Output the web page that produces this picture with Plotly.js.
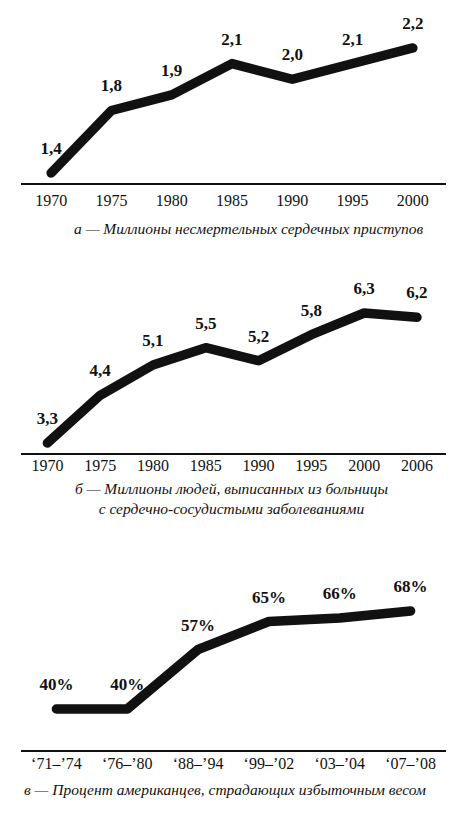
<!DOCTYPE html>
<html><head><meta charset="utf-8">
<script src="https://cdn.plot.ly/plotly-3.0.1.min.js"></script>
<style>html,body{margin:0;padding:0;background:#fff}#chart{width:463px;height:813px}
.js-line{stroke-linecap:round;stroke-linejoin:round}</style>
</head><body><div id="chart"></div><script>
const yearsA = ['1970','1975','1980','1985','1990','1995','2000'];
const heartAttacks = [1.4,1.8,1.9,2.1,2.0,2.1,2.2];
const yearsB = ['1970','1975','1980','1985','1990','1995','2000','2006'];
const discharges = [3.3,4.4,5.1,5.5,5.2,5.8,6.3,6.2];
const periodsC = ['‘71–’74','‘76–’80','‘88–’94','‘99–’02','‘03–’04','‘07–’08'];
const overweight = [40,40,57,65,66,68];
const captionA = 'а — Миллионы несмертельных сердечных приступов';
const captionB = 'б — Миллионы людей, выписанных из больницы<br>с сердечно-сосудистыми заболеваниями';
const captionC = 'в — Процент американцев, страдающих избыточным весом';

const FONT = 'Liberation Serif';
const INK = '#111';
const W = 463, H = 813;
const py = v => 1 - v / H;

function trace(x, y, labels, xa, ya) {
  return {
    x: x, y: y, xaxis: xa, yaxis: ya, type: 'scatter',
    mode: 'lines+markers+text',
    line: {color: INK, width: 9.5},
    marker: {size: 22, color: 'rgba(0,0,0,0)'},
    text: labels.map(t => '<b>' + t + '</b>'),
    textposition: 'top center',
    textfont: {family: FONT, size: 17, color: INK},
    cliponaxis: false, hoverinfo: 'skip', showlegend: false
  };
}
const comma = v => v.toFixed(1).replace('.', ',');

const data = [
  trace(yearsA, heartAttacks, heartAttacks.map(comma), 'x', 'y'),
  trace(yearsB, discharges, discharges.map(comma), 'x2', 'y2'),
  trace(periodsC, overweight, overweight.map(v => v + '%'), 'x3', 'y3')
];

function xaxis(range, yanchor, standoff) {
  return {
    type: 'category', range: range, domain: [21 / W, 446 / W], anchor: yanchor,
    showline: true, linecolor: INK, linewidth: 1.5, showgrid: false, zeroline: false,
    ticks: '', tickfont: {family: FONT, size: 16, color: INK},
    ticklabelstandoff: standoff, fixedrange: true
  };
}
function yaxis(range, bottom, top, xanchor) {
  return {range: range, domain: [py(bottom), py(top)], anchor: xanchor, visible: false, fixedrange: true};
}

const layout = {
  width: W, height: H, margin: {l: 0, r: 0, t: 0, b: 0},
  font: {family: FONT, color: INK},
  paper_bgcolor: '#fff', plot_bgcolor: '#fff', showlegend: false,
  xaxis: xaxis([-0.5, 6.55], 'y', 2),
  yaxis: yaxis([1.336, 2.379], 183, 20, 'x'),
  xaxis2: xaxis([-0.5, 7.55], 'y2', -3),
  yaxis2: yaxis([3.069, 6.831], 453, 290, 'x2'),
  xaxis3: xaxis([-0.5, 5.5], 'y3', -2),
  yaxis3: yaxis([28.29, 74.0], 750, 590, 'x3'),
  annotations: [
    {text: captionA, x: 249 / W, y: py(229), xref: 'paper', yref: 'paper', showarrow: false,
     xanchor: 'center', yanchor: 'middle', font: {family: FONT, size: 15.5, color: INK, style: 'italic'}},
    {text: captionB, x: 232 / W, y: py(498), xref: 'paper', yref: 'paper', showarrow: false,
     xanchor: 'center', yanchor: 'middle', font: {family: FONT, size: 15.5, color: INK, style: 'italic'}},
    {text: captionC, x: 225 / W, y: py(789), xref: 'paper', yref: 'paper', showarrow: false,
     xanchor: 'center', yanchor: 'middle', font: {family: FONT, size: 15.5, color: INK, style: 'italic'}}
  ]
};

Plotly.newPlot('chart', data, layout, {staticPlot: true, displayModeBar: false});
</script></body></html>
